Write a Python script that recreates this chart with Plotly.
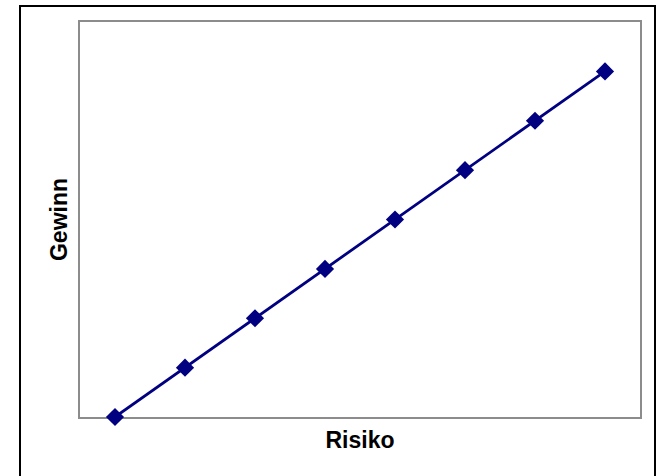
import plotly.graph_objects as go

# Risk vs. return series
risiko = [1, 2, 3, 4, 5, 6, 7, 8]
gewinn = [1, 2, 3, 4, 5, 6, 7, 8]

W, H = 658, 476
L, R, T, B = 80, 18, 22, 59
pw, ph = W - L - R, H - T - B

fig = go.Figure(
    go.Scatter(
        x=risiko,
        y=gewinn,
        mode="lines+markers",
        line=dict(color="#000080", width=2.8),
        marker=dict(symbol="diamond", size=14, color="#000080"),
        cliponaxis=False,
        showlegend=False,
    )
)

axis_common = dict(
    showgrid=False,
    zeroline=False,
    showticklabels=False,
    ticks="",
    showline=True,
    linecolor="#8c8c8c",
    linewidth=2,
    mirror=True,
    layer="below traces",
)

title_font = dict(family="Liberation Sans, Arial", size=23, color="black")

fig.update_xaxes(
    range=[0.5, 8.5],
    title=dict(text="<b>Risiko</b>", font=title_font, standoff=14),
    **axis_common,
)
fig.update_yaxes(
    range=[1, 9],
    title=dict(text="<b>Gewinn</b>", font=title_font, standoff=4),
    **axis_common,
)

# outer chart frame (open at the bottom edge of the page)
fig.add_shape(
    type="rect",
    xref="paper", yref="paper",
    x0=(20 - L) / pw, x1=(655 - L) / pw,
    y0=-(H - T - ph + 10) / ph, y1=(T + ph - 6) / ph,
    line=dict(color="black", width=2),
    fillcolor="rgba(0,0,0,0)",
    layer="below",
)

fig.update_layout(
    width=W,
    height=H,
    margin=dict(l=L, r=R, t=T, b=B),
    paper_bgcolor="white",
    plot_bgcolor="white",
    font=dict(family="Liberation Sans, Arial"),
)

fig.write_html("out.html")
